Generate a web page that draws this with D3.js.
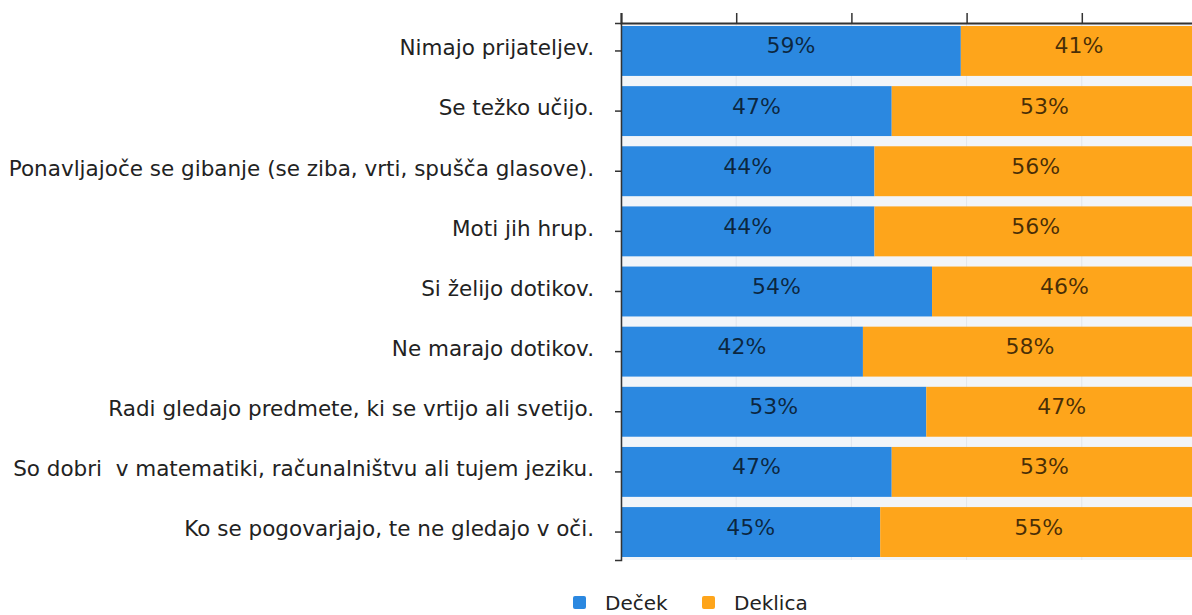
<!DOCTYPE html>
<html>
<head>
<meta charset="utf-8">
<script src="https://cdn.jsdelivr.net/npm/d3@7"></script>
<style>
  body { margin: 0; background: #fff; }
  svg { display: block; font-family: "DejaVu Sans", Verdana, sans-serif; }
  text { white-space: pre; }
</style>
</head>
<body>
<div id="chart"></div>
<script>
const categories = [
  "Nimajo prijateljev.",
  "Se težko učijo.",
  "Ponavljajoče se gibanje (se ziba, vrti, spušča glasove).",
  "Moti jih hrup.",
  "Si želijo dotikov.",
  "Ne marajo dotikov.",
  "Radi gledajo predmete, ki se vrtijo ali svetijo.",
  "So dobri  v matematiki, računalništvu ali tujem jeziku.",
  "Ko se pogovarjajo, te ne gledajo v oči."
];
const decek = [59, 47, 44, 44, 54, 42, 53, 47, 45];
const deklica = [41, 53, 56, 56, 46, 58, 47, 53, 55];
const seriesNames = ["Deček", "Deklica"];
const seriesColors = ["#2b88e0", "#fea51b"];
const xTicks = [0, 20, 40, 60, 80, 100];

const width = 1192, height = 615;
const margin = { top: 23, left: 621, bottom: 560 }; // chart runs past the right edge

const svg = d3.select("#chart").append("svg")
  .attr("width", width)
  .attr("height", height);

const x = d3.scaleLinear().domain([0, 100]).range([margin.left, margin.left + 576]);
const y = d3.scaleBand().domain(categories)
  .range([margin.top, margin.bottom])
  .paddingInner(0.17)
  .paddingOuter(0.05);

// plot background + faint grid
svg.append("rect")
  .attr("x", x(0)).attr("y", margin.top)
  .attr("width", width - x(0)).attr("height", margin.bottom - margin.top)
  .attr("fill", "#f2f5f9");
svg.append("g")
  .selectAll("line")
  .data(xTicks)
  .join("line")
  .attr("x1", d => x(d)).attr("x2", d => x(d))
  .attr("y1", margin.top).attr("y2", margin.bottom)
  .attr("stroke", "#e2e6ec");

const rows = categories.map((c, i) => ({ cat: c, vals: [decek[i], deklica[i]] }));

const rowG = svg.append("g").selectAll("g")
  .data(rows)
  .join("g");

rowG.each(function (d) {
  let acc = 0;
  const g = d3.select(this);
  d.vals.forEach((v, k) => {
    g.append("rect")
      .attr("x", x(acc))
      .attr("y", y(d.cat))
      .attr("width", x(acc + v) - x(acc))
      .attr("height", y.bandwidth())
      .attr("fill", seriesColors[k]);
    g.append("text")
      .attr("x", (x(acc) + x(acc + v)) / 2)
      .attr("y", y(d.cat) + y.bandwidth() / 2 - 5)
      .attr("text-anchor", "middle")
      .attr("dominant-baseline", "central")
      .attr("font-size", 22)
      .attr("fill", "#000")
      .attr("fill-opacity", 0.72)
      .text(v + "%");
    acc += v;
  });
});

// top axis
const xAxis = svg.append("g")
  .attr("transform", `translate(0,${margin.top})`)
  .call(d3.axisTop(x).tickValues(xTicks).tickSize(10).tickFormat(""));
xAxis.select(".domain").attr("stroke", "#333").attr("stroke-width", 2);
xAxis.selectAll(".tick line").attr("stroke", "#333").attr("stroke-width", 1.5);

// left axis
const yAxis = svg.append("g")
  .attr("transform", `translate(${x(0)},0)`)
  .call(d3.axisLeft(y).tickSize(6).tickPadding(21));
yAxis.select(".domain").attr("stroke", "#333").attr("stroke-width", 1.5);
yAxis.selectAll(".tick line").attr("stroke", "#333").attr("stroke-width", 1.5);
yAxis.selectAll(".tick text")
  .attr("font-size", 21.5)
  .attr("font-family", "DejaVu Sans, Verdana, sans-serif")
  .attr("fill", "#222")
  .attr("dy", "0.2em");

// legend
const legend = svg.append("g").attr("transform", "translate(573,596)");
const legendX = [0, 129];
seriesNames.forEach((name, k) => {
  const lg = legend.append("g").attr("transform", `translate(${legendX[k]},0)`);
  lg.append("rect")
    .attr("width", 13).attr("height", 13).attr("rx", 2)
    .attr("fill", seriesColors[k]);
  lg.append("text")
    .attr("x", 32).attr("y", 7)
    .attr("dominant-baseline", "central")
    .attr("font-size", 20)
    .attr("fill", "#222")
    .text(name);
});
</script>
</body>
</html>
